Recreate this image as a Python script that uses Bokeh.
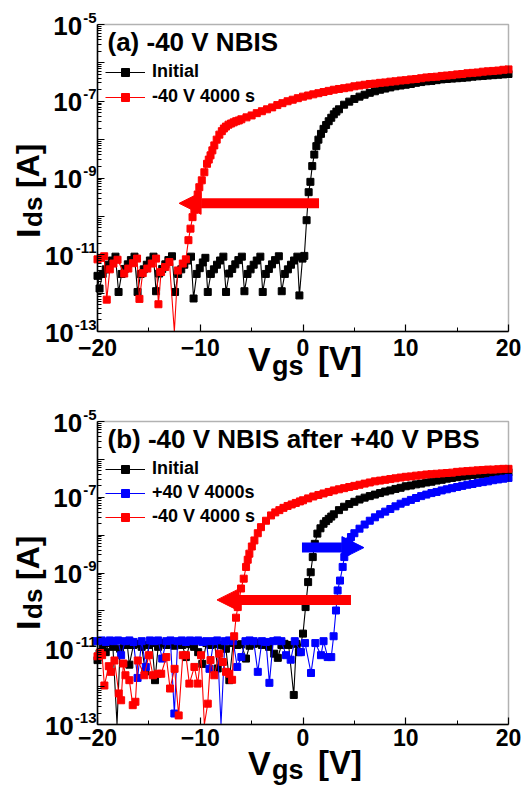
import math

from bokeh.embed import file_html
from bokeh.layouts import column
from bokeh.models import (Arrow, BoxAnnotation, CustomJSTickFormatter, FixedTicker,
                          Label, Legend, LegendItem, LinearAxis, LogAxis, NormalHead,
                          Range1d)
from bokeh.plotting import figure
from bokeh.resources import INLINE

FONT = "Liberation Sans"
BLACK, RED, BLUE = "#000000", "#ff0000", "#0000ff"

# ---------------------------------------------------------------------------
# Transfer curves, Vgs in V and log10(Ids / A)
# ---------------------------------------------------------------------------

# (a) -40 V NBIS : initial curve
a_init_v = [
    -20.0, -19.8, -19.5, -19.2, -18.9, -18.6, -18.25,
    -17.95, -17.65, -17.35, -17.05, -16.75, -16.4,
    -16.1, -15.8, -15.5, -15.2, -14.9, -14.55,
    -14.3, -14.0, -13.7, -13.4, -13.1, -12.75,
    -12.45, -12.15, -11.85, -11.55, -11.25, -10.9,
    -10.65, -10.35, -10.05, -9.75, -9.5,
    -9.27, -8.97, -8.67, -8.37, -8.07, -7.75,
    -7.49, -7.19, -6.89, -6.59, -6.29, -5.95,
    -5.7, -5.4, -5.1, -4.8, -4.5, -4.15,
    -3.92, -3.62, -3.32, -3.02, -2.72, -2.35,
    -2.07, -1.77, -1.47, -1.17, -0.87, -0.55,
    -0.35, -0.05, 0.13, 0.35, 0.55, 0.72, 0.9, 1.1, 1.3, 1.5, 1.75,
    2.0, 2.25, 2.5, 2.75, 3.0, 3.25, 3.5, 4.0, 4.5, 5.0, 5.5, 6.0, 6.5, 7.0, 7.5,
    8.0, 8.5, 9.0, 9.5, 10.0, 10.5, 11.0, 11.5, 12.0, 12.5, 13.0, 13.5, 14.0,
    14.5, 15.0, 15.5, 16.0, 16.5, 17.0, 17.5, 18.0, 18.5, 19.0, 19.5, 20.0,
]
a_init_log = [
    -11.55, -11.88, -11.5, -11.38, -11.26, -11.15, -11.05,
    -11.97, -11.5, -11.37, -11.25, -11.14, -11.05,
    -11.97, -11.5, -11.38, -11.26, -11.15, -11.05,
    -11.95, -11.49, -11.37, -11.25, -11.14, -11.04,
    -11.97, -11.5, -11.38, -11.26, -11.15, -11.05,
    -12.14, -11.5, -11.35, -11.2, -11.08,
    -11.97, -11.5, -11.38, -11.26, -11.15, -11.05,
    -11.97, -11.49, -11.37, -11.25, -11.14, -11.05,
    -11.95, -11.5, -11.38, -11.26, -11.15, -11.05,
    -11.97, -11.5, -11.37, -11.25, -11.14, -11.04,
    -11.95, -11.5, -11.38, -11.26, -11.15, -11.05,
    -12.06, -11.1, -11.03, -10.1, -9.37, -9.1, -8.69, -8.39, -8.17, -8.0, -7.85,
    -7.72, -7.62, -7.52, -7.43, -7.34, -7.27, -7.21, -7.09, -7.01, -6.94, -6.88,
    -6.83, -6.78, -6.74, -6.70, -6.67, -6.64, -6.61, -6.59, -6.57, -6.55, -6.52,
    -6.50, -6.48, -6.47, -6.45, -6.43, -6.42, -6.41, -6.40, -6.39, -6.38, -6.36,
    -6.35, -6.34, -6.33, -6.32, -6.31, -6.30, -6.29,
]

# (a) after -40 V NBIS for 4000 s
a_neg_v = [
    -20.0, -19.65, -19.35, -19.1, -18.8, -18.45, -18.05, -17.4, -17.0, -16.55,
    -16.15, -15.92, -15.6, -15.15, -14.72, -14.3, -14.07, -13.81, -13.42, -13.0,
    -12.52, -12.19, -11.7, -11.4, -11.15, -10.95, -10.75, -10.57, -10.4, -10.25,
    -10.09, -9.85, -9.6, -9.34, -9.17, -9.0, -8.82, -8.63, -8.4, -8.14, -7.9,
    -7.7, -7.5, -7.25, -7.0, -6.75, -6.5, -6.25, -6.0, -5.5, -5.0, -4.5, -4.0,
    -3.5, -3.0, -2.5, -2.0, -1.5, -1.0, -0.5, 0.0,
    0.5, 1.0, 1.5, 2.0, 2.5, 3.0, 3.5, 4.0, 4.5, 5.0, 5.5, 6.0, 6.5, 7.0, 7.5,
    8.0, 8.5, 9.0, 9.5, 10.0, 10.5, 11.0, 11.5, 12.0, 12.5, 13.0, 13.5, 14.0,
    14.5, 15.0, 15.5, 16.0, 16.5, 17.0, 17.5, 18.0, 18.5, 19.0, 19.5, 20.0,
]
a_neg_log = [
    -11.12, -11.08, -11.04, -12.17, -11.38, -11.23, -11.13, -11.49, -11.36, -11.22,
    -11.1, -12.15, -11.48, -11.36, -11.23, -11.1, -12.29, -11.45, -11.32, -11.19,
    -14.0, -11.41, -11.23, -11.12, -10.62, -10.32, -10.02, -9.83, -9.62, -9.43,
    -9.24, -9.06, -8.85, -8.63, -8.52, -8.41, -8.28, -8.15, -8.0, -7.87, -7.78,
    -7.71, -7.66, -7.61, -7.58, -7.55, -7.52, -7.5, -7.47, -7.42, -7.37, -7.31, -7.26,
    -7.21, -7.16, -7.1, -7.05, -7.0, -6.96, -6.92, -6.88,
    -6.85, -6.82, -6.79, -6.76, -6.73, -6.7, -6.68, -6.66, -6.64, -6.61, -6.59,
    -6.57, -6.55, -6.54, -6.52, -6.51, -6.49, -6.48, -6.46, -6.45, -6.43, -6.42,
    -6.4, -6.38, -6.37, -6.36, -6.34, -6.33, -6.32, -6.3, -6.29, -6.27, -6.26,
    -6.25, -6.23, -6.22, -6.21, -6.2, -6.18, -6.17,
]

# (b) -40 V NBIS after +40 V PBS : initial curve
b_init_v = [
    -20.0, -19.8, -19.5, -19.2, -18.9, -18.5, -18.1, -17.8, -17.4, -17.1,
    -16.9, -16.5, -16.1, -15.7, -15.35, -15.0, -14.7, -14.4, -14.1, -13.7,
    -13.3, -12.9, -12.5, -12.1, -11.75, -11.4, -11.0, -10.6, -10.2, -9.8,
    -9.4, -9.0, -8.6, -8.3, -7.9, -7.5, -7.17, -6.8, -6.4, -6.0,
    -5.55, -5.2, -4.8, -4.4, -4.0, -3.7, -3.3, -2.8, -2.45, -2.1,
    -1.8, -1.4, -0.9, -0.65, -0.4, 0.0,
    0.25, 0.5, 0.75, 0.95, 1.15, 1.4, 1.7, 2.0, 2.25, 2.5, 2.75, 3.0, 3.5, 4.0,
    4.5, 5.0, 5.5, 6.0,
    6.5, 7.0, 7.5, 8.0, 8.5, 9.0, 9.5, 10.0, 10.5, 11.0, 11.5, 12.0, 12.5, 13.0,
    13.5, 14.0, 14.5, 15.0, 15.5, 16.0, 16.5, 17.0, 17.5, 18.0, 18.5, 19.0, 19.5,
    20.0,
]
b_init_log = [
    -11.3, -11.12, -10.92, -11.09, -10.85, -10.95, -14.0, -11.0, -10.85, -10.9,
    -11.42, -10.9, -10.87, -10.95, -11.6, -10.9, -10.85, -11.83, -10.95, -10.85,
    -10.9, -10.88, -10.92, -10.85, -10.9, -11.22, -10.88, -10.95, -11.09, -11.4,
    -10.85, -10.9, -10.88, -11.52, -10.9, -11.0, -11.83, -10.85, -10.9, -10.88,
    -11.26, -10.92, -10.87, -10.85, -10.9, -10.87, -10.95, -11.13, -11.24, -10.9,
    -10.87, -10.9, -12.22, -10.87, -11.09, -10.6,
    -9.9, -9.24, -8.98, -8.58, -8.23, -7.96, -7.82, -7.7, -7.63, -7.57, -7.51,
    -7.45, -7.34, -7.25, -7.18, -7.12, -7.06, -7.01,
    -6.97, -6.93, -6.89, -6.85, -6.82, -6.78, -6.75, -6.71, -6.69, -6.66, -6.64,
    -6.61, -6.59, -6.56, -6.54, -6.51, -6.49, -6.47, -6.45, -6.43, -6.41, -6.4,
    -6.39, -6.38, -6.37, -6.36, -6.35, -6.34,
]

# (b) after +40 V PBS for 4000 s
b_pos_v = [
    -20.0, -19.6, -19.2, -18.8, -18.4, -18.0, -17.7, -17.3, -16.9, -16.5,
    -16.1, -15.7, -15.3, -14.9, -14.5, -14.1, -13.7, -13.3, -12.9, -12.52,
    -12.2, -11.8, -11.4, -11.0, -10.6, -10.2, -9.8, -9.4, -9.1, -8.7,
    -8.35, -7.98, -7.6, -7.2, -6.8, -6.4, -6.0, -5.6, -5.2, -4.8,
    -4.4, -4.0, -3.6, -3.27, -2.9, -2.5, -2.1, -1.65, -1.2, -0.8,
    -0.2, 0.2, 0.78, 1.2, 1.75, 2.0, 2.4, 2.75,
    2.98, 3.21, 3.37, 3.6, 3.86, 4.02, 4.2, 4.35, 4.5, 4.67,
    5.0, 5.5, 6.0, 6.5, 7.0, 7.5, 8.0, 8.5, 9.0, 9.5, 10.0, 10.5, 11.0, 11.5,
    12.0, 12.5, 13.0, 13.5, 14.0, 14.5, 15.0, 15.5, 16.0, 16.5, 17.0, 17.5,
    18.0, 18.5, 19.0, 19.5, 20.0,
]
b_pos_log = [
    -10.8, -10.78, -10.82, -10.78, -10.8, -10.78, -11.17, -10.8, -10.78, -10.82,
    -11.77, -10.8, -11.48, -10.78, -10.8, -10.78, -11.26, -10.8, -10.78, -12.71,
    -10.8, -10.78, -10.82, -10.78, -10.8, -10.78, -10.82, -10.8, -11.53, -10.8,
    -10.78, -14.0, -10.8, -10.78, -10.8, -11.48, -11.22, -10.8, -10.78, -10.8,
    -11.61, -10.8, -10.82, -11.9, -10.8, -10.78, -10.8, -11.17, -11.29, -10.8,
    -11.09, -10.85, -11.64, -10.85, -11.17, -10.8, -11.22, -11.22,
    -10.67, -9.99, -9.46, -9.2, -8.84, -8.58, -8.43, -8.3, -8.17, -8.05,
    -7.95, -7.83, -7.72, -7.62, -7.53, -7.45, -7.38, -7.31, -7.24, -7.17, -7.12,
    -7.07, -7.02, -6.97, -6.93, -6.89, -6.86, -6.82, -6.79, -6.76, -6.73, -6.7,
    -6.67, -6.65, -6.62, -6.6, -6.58, -6.55, -6.53, -6.51, -6.49,
]

# (b) after -40 V NBIS for 4000 s
b_neg_v = [
    -20.0, -19.75, -19.55, -19.33, -18.9, -18.7, -18.35, -17.93, -17.7, -17.48,
    -17.28, -16.9, -16.57, -16.31, -16.08, -15.44, -15.0, -14.6, -14.14, -13.8,
    -13.3, -12.94, -12.5, -12.1, -11.7, -11.4, -11.06, -10.57, -10.25, -9.92,
    -9.6, -9.27, -9.0, -8.63, -8.14, -7.8, -7.49, -7.17, -6.9,
    -6.7, -6.52, -6.35, -6.2, -6.03, -5.77, -5.54, -5.38, -5.22, -4.98, -4.73,
    -4.4, -4.09, -3.6, -3.11, -2.7, -2.3, -1.9, -1.5, -1.1, -0.7, -0.3, 0.0,
    0.5, 1.0, 1.5, 2.0, 2.5, 3.0, 3.5, 4.0, 4.5, 5.0, 5.5, 6.0, 6.5, 7.0, 7.5,
    8.0, 8.5, 9.0, 9.5, 10.0, 10.5, 11.0, 11.5, 12.0, 12.5, 13.0, 13.5, 14.0,
    14.5, 15.0, 15.5, 16.0, 16.5, 17.0, 17.5, 18.0, 18.5, 19.0, 19.5, 20.0,
]
b_neg_log = [
    -11.2, -11.1, -11.17, -11.97, -11.46, -11.61, -11.31, -12.18, -12.36, -11.39,
    -11.7, -11.83, -12.49, -12.4, -11.31, -11.7, -11.17, -11.7, -11.66, -11.66,
    -11.22, -12.05, -11.53, -12.76, -11.17, -11.17, -11.92, -11.48, -11.92, -11.17,
    -14.0, -12.45, -11.3, -11.7, -11.13, -11.35, -11.61, -11.66, -11.82,
    -10.67, -10.18, -9.9, -9.72, -9.41, -9.15, -8.84, -8.65, -8.49, -8.3, -8.14,
    -7.95, -7.79, -7.62, -7.48, -7.4, -7.34, -7.28, -7.23, -7.19, -7.15, -7.11, -7.08,
    -7.03, -6.98, -6.94, -6.9, -6.86, -6.82, -6.79, -6.76, -6.73, -6.7, -6.67,
    -6.64, -6.61, -6.58, -6.56, -6.54, -6.52, -6.5, -6.48, -6.46, -6.45, -6.43,
    -6.42, -6.4, -6.39, -6.38, -6.37, -6.36, -6.35, -6.33, -6.32, -6.31, -6.3,
    -6.29, -6.28, -6.27, -6.27, -6.26, -6.25, -6.25,
]

# Axis limits and ticks
X_MIN, X_MAX = -20.0, 20.0
LOG_MIN, LOG_MAX = -13, -5
X_TICKS = [-20, -10, 0, 10, 20]
X_MINOR = [-15, -5, 5, 15]
Y_DECADES = list(range(LOG_MIN, LOG_MAX + 1))
Y_LABELLED = [-5, -7, -9, -11, -13]

# Threshold-shift arrows: (Vgs tail, Vgs tip, log10 level, colour)
ARROWS_A = [(1.56, -12.06, -9.66, RED)]
ARROWS_B = [(-0.1, 5.93, -8.33, BLUE), (4.67, -8.37, -9.71, RED)]

WIDTH = 522
BOX_LEFT, BOX_RIGHT = 97, 508          # plot box edges, px from the left

# advance widths (em) of the bold sans face, used to butt the exponent
# against the "10" of each y tick label
ADVANCE = {"-": 0.333, **{d: 0.556 for d in "0123456789"}}
TEN_SIZE, EXP_SIZE = 26, 15


def bold_label(p, **kw):
    kw.setdefault("text_font", FONT)
    kw.setdefault("text_font_style", "bold")
    kw.setdefault("text_color", "black")
    kw.setdefault("text_baseline", "middle")
    p.add_layout(Label(**kw))


def panel(series, title, height, box_top, box_bottom, legend_xy, row_gap,
          x_standoff, title_dy, vgs_dy, ids_dy, arrows):
    # The frame fills the whole canvas; the plot box sits inside it so that
    # tick labels and axis titles are drawn inside the frame as well.
    v_per_px = (X_MAX - X_MIN) / (BOX_RIGHT - BOX_LEFT)
    dec_per_px = (LOG_MAX - LOG_MIN) / (box_bottom - box_top)
    x_range = Range1d(X_MIN - BOX_LEFT * v_per_px,
                      X_MAX + (WIDTH - BOX_RIGHT) * v_per_px)
    y_range = Range1d(10.0 ** (LOG_MIN - (height - box_bottom) * dec_per_px),
                      10.0 ** (LOG_MAX + box_top * dec_per_px))

    p = figure(width=WIDTH, height=height, x_range=x_range, y_range=y_range,
               y_axis_type="log", x_axis_location=None, y_axis_location=None,
               output_backend="svg", toolbar_location=None, min_border=0)
    p.grid.visible = False
    p.outline_line_color = None
    p.background_fill_color = "white"
    p.border_fill_color = "white"

    xa = LinearAxis(fixed_location=10.0 ** LOG_MIN, bounds=(X_MIN, X_MAX),
                    ticker=FixedTicker(ticks=X_TICKS, minor_ticks=X_MINOR))
    xa.major_label_text_font = FONT
    xa.major_label_text_font_style = "bold"
    xa.major_label_text_font_size = "23px"
    xa.major_label_text_color = "black"
    xa.major_label_standoff = x_standoff
    ya = LogAxis(fixed_location=X_MIN,
                 bounds=(10.0 ** LOG_MIN, 10.0 ** LOG_MAX),
                 ticker=FixedTicker(
                     ticks=[10.0 ** e for e in Y_DECADES],
                     minor_ticks=[k * 10.0 ** e for e in Y_DECADES[:-1]
                                  for k in range(2, 10)]),
                 formatter=CustomJSTickFormatter(code="return ''"))
    for ax in (xa, ya):
        ax.axis_line_color = "black"
        ax.axis_line_width = 1.5
        ax.major_tick_in = 7
        ax.major_tick_out = 0
        ax.minor_tick_in = 4
        ax.minor_tick_out = 0
        ax.major_tick_line_color = "black"
        ax.minor_tick_line_color = "black"
        ax.major_tick_line_width = 1.2
        ax.minor_tick_line_width = 1
    p.add_layout(xa, "below")
    p.add_layout(ya, "left")

    # top and right edges of the plot box
    p.add_layout(BoxAnnotation(left=X_MIN, right=X_MAX, bottom=10.0 ** LOG_MIN,
                               top=10.0 ** LOG_MAX, fill_alpha=0,
                               line_color="black", line_width=1.5))

    items = []
    for name, v, logs, color in series:
        # points below the axis floor run down to the box edge, unmarked
        line_y = [10.0 ** max(l, LOG_MIN) for l in logs]
        kept = [(x, 10.0 ** l) for x, l in zip(v, logs) if l >= LOG_MIN]
        ln = p.line(v, line_y, line_color=color, line_width=1.1)
        sc = p.scatter([k[0] for k in kept], [k[1] for k in kept],
                       marker="square", size=7, fill_color=color,
                       line_color=color)
        items.append(LegendItem(label=name, renderers=[ln, sc]))

    legend = Legend(items=items, location=legend_xy, glyph_width=40,
                    glyph_height=20, label_height=20, spacing=row_gap,
                    padding=0, margin=0, label_standoff=7,
                    label_text_font=FONT, label_text_font_style="bold",
                    label_text_font_size="18px", label_text_color="black",
                    background_fill_alpha=0, border_line_alpha=0)
    p.add_layout(legend)

    for tail, tip, level, color in arrows:
        p.add_layout(Arrow(end=NormalHead(size=22, fill_color=color,
                                          line_color=color, line_width=1),
                           x_start=tail, y_start=10.0 ** level,
                           x_end=tip, y_end=10.0 ** level,
                           line_color=color, line_width=10))

    # panel title
    bold_label(p, x=X_MIN, y=10.0 ** LOG_MAX, x_offset=10, y_offset=title_dy,
               text=title, text_font_size="26px")

    # y tick labels 10^n, right-aligned against the box
    for e in Y_LABELLED:
        exp = str(e)
        exp_w = sum(ADVANCE[c] for c in exp) * EXP_SIZE
        bold_label(p, x=X_MIN, y=10.0 ** e, x_offset=-2 - exp_w, y_offset=-1,
                   text="10", text_align="right", text_font_size=f"{TEN_SIZE}px")
        bold_label(p, x=X_MIN, y=10.0 ** e, x_offset=-1, y_offset=7,
                   text=exp, text_align="right", text_font_size=f"{EXP_SIZE}px")

    # x axis title  V_gs [V]
    base = 10.0 ** LOG_MIN
    bold_label(p, x=0, y=base, x_offset=-55, y_offset=vgs_dy, text="V",
               text_font_size="34px")
    bold_label(p, x=0, y=base, x_offset=-31, y_offset=vgs_dy - 7, text="gs",
               text_font_size="27px")
    bold_label(p, x=0, y=base, x_offset=15, y_offset=vgs_dy, text="[V]",
               text_font_size="33px")

    # y axis title  I_ds [A]
    half_pi = math.pi / 2
    mid = 10.0 ** ((LOG_MIN + LOG_MAX) / 2)
    bold_label(p, x=X_MIN, y=mid, x_offset=-70, y_offset=ids_dy, text="I",
               angle=half_pi, text_font_size="34px")
    bold_label(p, x=X_MIN, y=mid, x_offset=-65, y_offset=ids_dy + 11, text="ds",
               angle=half_pi, text_font_size="26px")
    bold_label(p, x=X_MIN, y=mid, x_offset=-70, y_offset=ids_dy + 50, text="[A]",
               angle=half_pi, text_font_size="32px")
    return p


p_a = panel(
    [("Initial", a_init_v, a_init_log, BLACK),
     ("-40 V 4000 s", a_neg_v, a_neg_log, RED)],
    "(a) -40 V NBIS", height=390, box_top=24, box_bottom=331,
    legend_xy=(105, 283), row_gap=4, x_standoff=7, title_dy=-17,
    vgs_dy=-27, ids_dy=-60, arrows=ARROWS_A)

p_b = panel(
    [("Initial", b_init_v, b_init_log, BLACK),
     ("+40 V 4000s", b_pos_v, b_pos_log, BLUE),
     ("-40 V 4000 s", b_neg_v, b_neg_log, RED)],
    "(b) -40 V NBIS after +40 V PBS", height=397, box_top=31, box_bottom=334,
    legend_xy=(105, 260), row_gap=3, x_standoff=4, title_dy=-17,
    vgs_dy=-38, ids_dy=-57, arrows=ARROWS_B)

layout = column(p_a, p_b, spacing=0)

with open("out.html", "w") as f:
    f.write(file_html(layout, INLINE))
